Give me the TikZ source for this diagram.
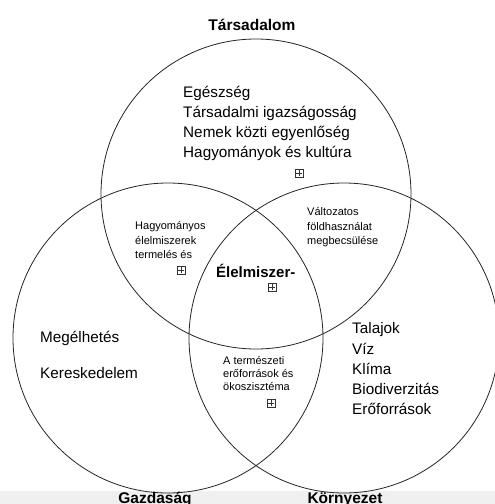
\documentclass[tikz,border=0pt]{standalone}
\usepackage{fontspec}
\setmainfont{Liberation Sans}
\begin{document}
\begin{tikzpicture}[x=1pt,y=-1pt,
  circ/.style={draw=black!85, line width=0.8pt},
  big/.style={anchor=base west, inner sep=0pt, font=\fontsize{15.3}{18}\selectfont},
  small/.style={anchor=base west, inner sep=0pt, font=\fontsize{11}{13}\selectfont},
  title/.style={anchor=base, inner sep=0pt, font=\fontsize{15.5}{18}\selectfont\bfseries},
  plusbox/.style={draw=black!80, line width=0.55pt, minimum size=8pt, inner sep=0pt,
    path picture={\draw[line width=0.55pt,black!80]
      ([yshift=-1.4pt]path picture bounding box.north) -- ([yshift=1.4pt]path picture bounding box.south)
      ([xshift=1.4pt]path picture bounding box.west) -- ([xshift=-1.4pt]path picture bounding box.east);}}
]
\useasboundingbox (0,0) rectangle (495,504);
\clip (0,0) rectangle (495,504);
\fill[white] (0,0) rectangle (495,504);
\fill[black!6] (0,491) rectangle (495,504);

\draw[circ] (256,194) circle (155);
\draw[circ] (168,338) circle (155);
\draw[circ] (344,338) circle (155);

\node[title] (tT) at (252,30) {Társadalom};
\node[title] (tG) at (155,503) {Gazdaság};
\node[title] (tK) at (345,503) {Környezet};

\node[big] (s1) at (183,97) {Egészség};
\node[big] (s2) at (183,117) {Társadalmi igazságosság};
\node[big] (s3) at (183,137) {Nemek közti egyenlőség};
\node[big] (s4) at (183,157) {Hagyományok és kultúra};
\node[plusbox] (b1) at (299,173) {};

\node[small] (h1) at (135,229) {Hagyományos};
\node[small] (h2) at (135,244) {élelmiszerek};
\node[small] (h3) at (135,258) {termelés és};
\node[plusbox] (b2) at (181,270) {};

\node[small] (v1) at (307,215) {Változatos};
\node[small] (v2) at (307,230) {földhasználat};
\node[small] (v3) at (307,244) {megbecsülése};

\node[big, font=\fontsize{15}{18}\selectfont\bfseries] (e1) at (216,277) {Élelmiszer-};
\node[plusbox] (b3) at (272,287) {};

\node[big] (g1) at (40,342) {Megélhetés};
\node[big] (g2) at (40,378) {Kereskedelem};

\node[small] (a1) at (223,364) {A természeti};
\node[small] (a2) at (223,377) {erőforrások és};
\node[small] (a3) at (223,390) {ökoszisztéma};
\node[plusbox] (b4) at (271,403) {};

\node[big] (k1) at (352,333) {Talajok};
\node[big] (k2) at (352,354) {Víz};
\node[big] (k3) at (352,374) {Klíma};
\node[big] (k4) at (352,394) {Biodiverzitás};
\node[big] (k5) at (352,414) {Erőforrások};
\end{tikzpicture}
\end{document}
